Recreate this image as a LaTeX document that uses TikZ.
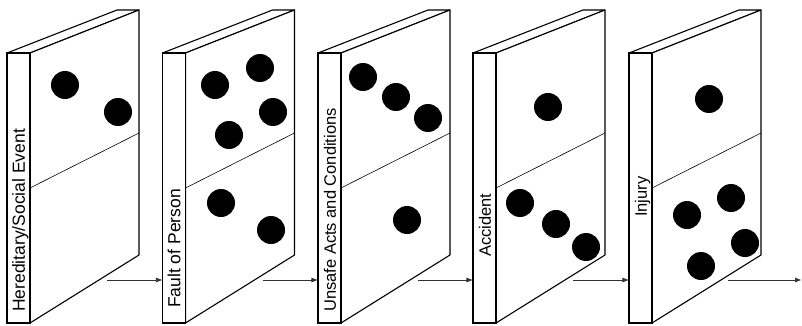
\documentclass[tikz,border=0pt]{standalone}
\usepackage{fontspec}
\setmainfont{Liberation Sans}
\usetikzlibrary{arrows.meta}
\tikzset{
  strip/.style={draw, line width=1.1pt, fill=white, minimum width=23pt, minimum height=270pt, inner sep=0pt},
  face/.style={draw, line width=1.1pt, fill=white, line join=round},
  divider/.style={line width=0.6pt},
  pip/.style={fill=black},
  lbl/.style={rotate=90, anchor=base west, inner sep=0pt},
  arr/.style={line width=0.7pt, black!80, -{Triangle[length=6pt,width=4.5pt]}}
}
\newcommand\dominobody{%
  \draw[face] (0,53) -- (110,10) -- (132,10) -- (23,53) -- cycle;
  \draw[face] (23,53) -- (132,10) -- (132,255) -- (23,323) -- cycle;
  \draw[divider] (23,188) -- (132,133);
}
\begin{document}
\begin{tikzpicture}[x=1pt,y=-1pt]
\useasboundingbox (0,0) rectangle (802,326);
% domino 1
\begin{scope}[xshift=7pt]
  \dominobody
  \node[strip] (s1) at (11.5,188) {};
  \fill[pip] (58,85) circle[radius=14];
  \fill[pip] (111,112) circle[radius=14];
  \node[lbl, font=\fontsize{17.5}{20}\selectfont] (t1) at (17.8,312) {Hereditary/Social Event};
  \coordinate (a1) at (100,280);
\end{scope}
% domino 2
\begin{scope}[xshift=162.5pt]
  \dominobody
  \node[strip] (s2) at (11.5,188) {};
  \fill[pip] (52.5,85) circle[radius=14];
  \fill[pip] (97.5,68) circle[radius=14];
  \fill[pip] (110.5,112) circle[radius=14];
  \fill[pip] (66.5,135) circle[radius=14];
  \fill[pip] (58.5,203) circle[radius=14];
  \fill[pip] (108.5,230) circle[radius=14];
  \node[lbl, font=\fontsize{17.5}{20}\selectfont] (t2) at (17.8,308) {Fault of Person};
  \coordinate (a2) at (100,280);
\end{scope}
% domino 3
\begin{scope}[xshift=318pt]
  \dominobody
  \node[strip] (s3) at (11.5,188) {};
  \fill[pip] (45,77) circle[radius=14];
  \fill[pip] (78,97) circle[radius=14];
  \fill[pip] (110,118) circle[radius=14];
  \fill[pip] (89,220) circle[radius=14];
  \node[lbl, font=\fontsize{16.5}{19}\selectfont] (t3) at (17.8,312) {Unsafe Acts and Conditions};
  \coordinate (a3) at (100,280);
\end{scope}
% domino 4
\begin{scope}[xshift=473pt]
  \dominobody
  \node[strip] (s4) at (11.5,188) {};
  \fill[pip] (75,107) circle[radius=14];
  \fill[pip] (47,203) circle[radius=14];
  \fill[pip] (83,224) circle[radius=14];
  \fill[pip] (113,247) circle[radius=14];
  \node[lbl, font=\fontsize{16.5}{19}\selectfont] (t4) at (17.8,257) {Accident};
  \coordinate (a4) at (100,280);
\end{scope}
% domino 5
\begin{scope}[xshift=629pt]
  \dominobody
  \node[strip] (s5) at (11.5,188) {};
  \fill[pip] (80,99) circle[radius=14];
  \fill[pip] (58,215) circle[radius=14];
  \fill[pip] (102,198) circle[radius=14];
  \fill[pip] (116,243) circle[radius=14];
  \fill[pip] (72,266) circle[radius=14];
  \node[lbl, font=\fontsize{16.5}{19}\selectfont] (t5) at (17.8,217) {Injury};
  \coordinate (a5) at (99,280);
\end{scope}
\coordinate (fin) at (801,280);
% connectors
\draw[arr] (a1) -- (a1 -| s2.west);
\draw[arr] (a2) -- (a2 -| s3.west);
\draw[arr] (a3) -- (a3 -| s4.west);
\draw[arr] (a4) -- (a4 -| s5.west);
\draw[arr] (a5) -- (fin);
\end{tikzpicture}
\end{document}
